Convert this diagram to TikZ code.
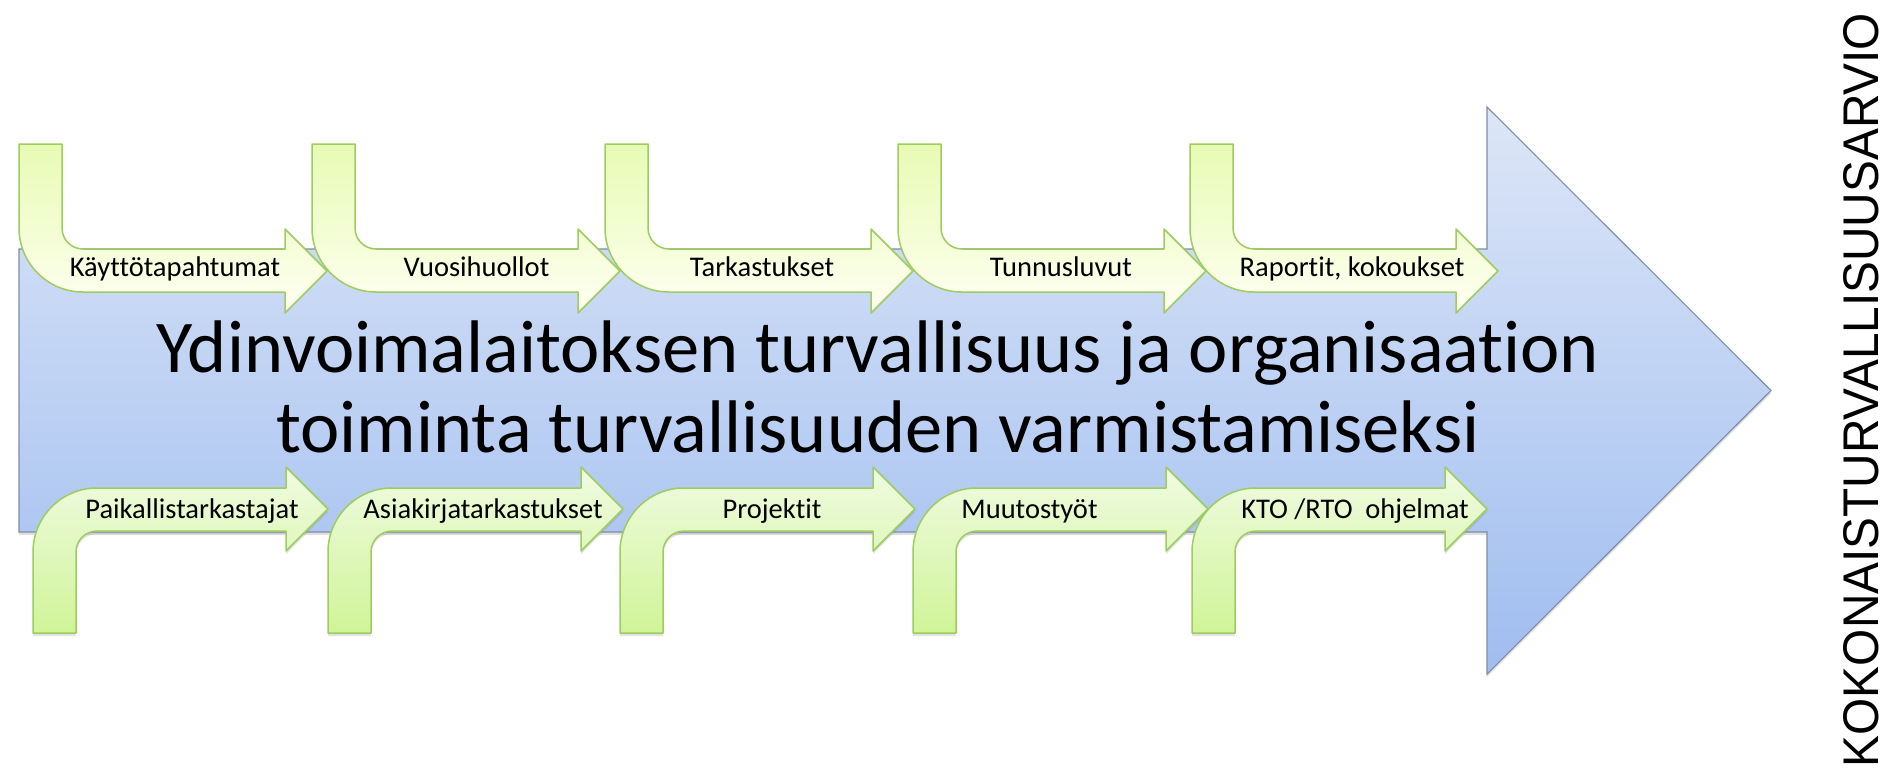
\documentclass[tikz,border=0pt]{standalone}
\usepackage{fontspec}
\setmainfont{Carlito}[Ligatures=CommonOff]
\newfontfamily\arialfont{Liberation Sans}
\usetikzlibrary{shadows}
\definecolor{bigtop}{HTML}{DDE6F7}
\definecolor{bigbot}{HTML}{9FBDF0}
\definecolor{bigline}{HTML}{7F8DA6}
\definecolor{tgA}{HTML}{E7FBB4}
\definecolor{tgB}{HTML}{FFFFF2}
\definecolor{bgA}{HTML}{F0FBE2}
\definecolor{bgB}{HTML}{D0F498}
\definecolor{gline}{HTML}{9CCD5E}
\tikzset{
  bigarrow/.style={draw=bigline, line width=1.1pt, top color=bigtop, bottom color=bigbot,
    drop shadow={shadow xshift=0pt, shadow yshift=-3pt, opacity=0.25}},
  topgreen/.style={draw=gline, line width=1.5pt, top color=tgA, bottom color=tgB, line join=round},
  botgreen/.style={draw=gline, line width=1.5pt, top color=bgA, bottom color=bgB, line join=round,
    drop shadow={shadow xshift=0pt, shadow yshift=-3pt, opacity=0.22}},
  lbl/.style={anchor=base, inner sep=0pt, font=\fontsize{28.5}{33}\selectfont},
  ttl/.style={anchor=base, inner sep=0pt, font=\fontsize{74.5}{80}\selectfont},
  toparrow/.pic={
    \path[topgreen] (0,144) -- (0,228) .. controls (0,263.3) and (28.7,292) .. (64,292)
      -- (266,292) -- (266,313) -- (308,271) -- (266,229) -- (266,249) -- (64,249)
      .. controls (52.4,249) and (43,239.6) .. (43,228) -- (43,144) -- cycle;
  },
  botarrow/.pic={
    \path[botgreen] (0,633) -- (0,552) .. controls (0,516.7) and (28.7,488) .. (64,488)
      -- (253,488) -- (253,467) -- (295,509) -- (253,551) -- (253,531) -- (64,531)
      .. controls (52.4,531) and (43,540.4) .. (43,552) -- (43,633) -- cycle;
  }
}
\begin{document}
\begin{tikzpicture}[x=1pt,y=-1pt]
\useasboundingbox[fill=white] (0,0) rectangle (1889,777);
% big arrow
\path[bigarrow] (19,249) -- (1487,249) -- (1487,107) -- (1771,390.5) -- (1487,674) -- (1487,532) -- (19,532) -- cycle;
% title
\node[ttl] (t1) at (878,372) {Ydinvoimalaitoksen turvallisuus ja organisaation};
\node[ttl] (t2) at (878,452) {toiminta turvallisuuden varmistamiseksi};
% top arrows
\pic at (19,0) {toparrow};
\pic at (312,0) {toparrow};
\pic at (605,0) {toparrow};
\pic at (898,0) {toparrow};
\pic at (1190,0) {toparrow};
\node[lbl] (a1) at (175,276) {Käyttötapahtumat};
\node[lbl] (a2) at (476.5,276) {Vuosihuollot};
\node[lbl] (a3) at (762,276) {Tarkastukset};
\node[lbl] (a4) at (1061,276) {Tunnusluvut};
\node[lbl] (a5) at (1352,276) {Raportit, kokoukset};
% bottom arrows
\pic at (33,0) {botarrow};
\pic at (328,0) {botarrow};
\pic at (620,0) {botarrow};
\pic at (913,0) {botarrow};
\pic at (1192,0) {botarrow};
\node[lbl] (b1) at (192,518) {Paikallistarkastajat};
\node[lbl] (b2) at (483,518) {Asiakirjatarkastukset};
\node[lbl] (b3) at (772,518) {Projektit};
\node[lbl] (b4) at (1029.5,518) {Muutostyöt};
\node[lbl] (b5) at (1355,518) {KTO /RTO\ \ ohjelmat};
% vertical label
\node[rotate=90, inner sep=0pt] (v) at (1861.5,390) {\resizebox{754pt}{35pt}{\arialfont KOKONAISTURVALLISUUSARVIO}};
\end{tikzpicture}
\end{document}
